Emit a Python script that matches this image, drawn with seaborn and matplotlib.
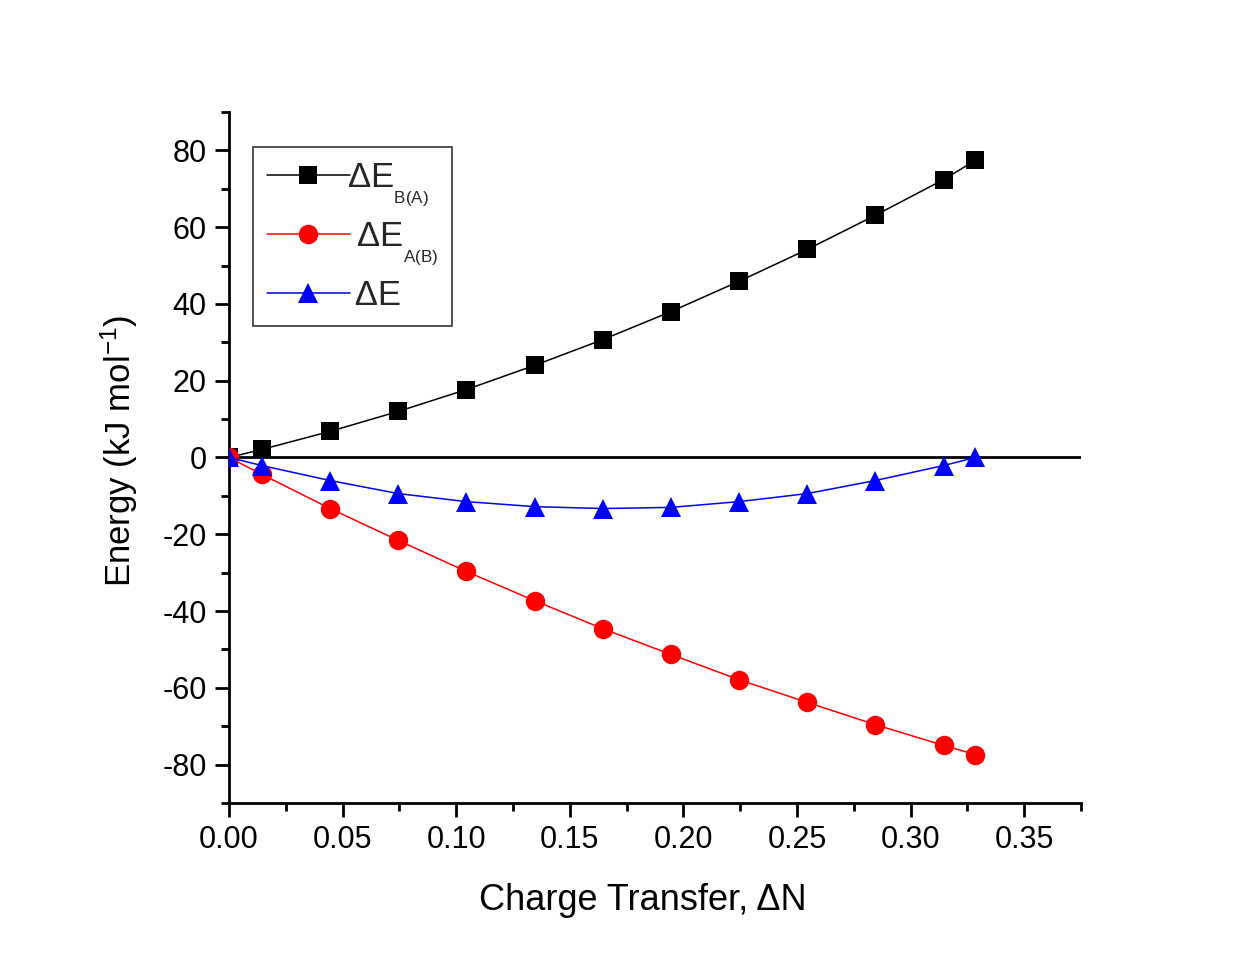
import numpy as np
import pandas as pd
import matplotlib
matplotlib.use("Agg")
import matplotlib.pyplot as plt
import seaborn as sns
from matplotlib.ticker import MultipleLocator, FormatStrFormatter

# Deeper subscript drop (to mimic the Origin-style legend subscripts)
try:
    import matplotlib._mathtext as _mt
    _mt.FontConstantsBase.sub1 = 0.5
except Exception:
    pass

# Data
delta_n = [0.0, 0.0145, 0.0445, 0.0745, 0.1045, 0.1345, 0.1645, 0.1945,
           0.2245, 0.2545, 0.2845, 0.3145, 0.3285]
e_ba = [0.0, 2.1, 6.8, 12.0, 17.7, 24.0, 30.7, 38.0, 45.9, 54.2, 63.1, 72.4, 77.4]
e_ab = [0.0, -4.4, -13.3, -21.6, -29.7, -37.3, -44.6, -51.3, -57.9, -63.8,
        -69.6, -75.0, -77.4]
e_tot = [0.0, -2.1, -6.0, -9.4, -11.5, -12.8, -13.3, -13.0, -11.5, -9.4,
         -6.0, -2.1, 0.0]

labels = ["ΔE$_{{}_\\mathregular{B(A)}}$", " ΔE$_{{}_\\mathregular{A(B)}}$", " ΔE"]
colors = ["#000000", "#ff0000", "#0000ff"]
markers = ["s", "o", "^"]
msizes = [13, 14, 15]

sns.set_theme(style="white")
plt.rcParams["font.family"] = ["Liberation Sans", "DejaVu Sans"]
plt.rcParams["mathtext.fontset"] = "custom"
plt.rcParams["mathtext.rm"] = "Liberation Sans"
plt.rcParams["mathtext.it"] = "Liberation Sans:italic"
plt.rcParams["axes.unicode_minus"] = False

fig = plt.figure(figsize=(12.39, 9.55), dpi=100)
ax = fig.add_axes([0.1848, 0.1592, 0.8725 - 0.1848, 0.8827 - 0.1592])

ax.axhline(0, color="black", lw=2, zorder=1)

for ys, lab, c, m, ms in zip([e_ba, e_ab, e_tot], labels, colors, markers, msizes):
    sns.lineplot(x=delta_n, y=ys, ax=ax, color=c, marker=m, markersize=ms,
                 markeredgewidth=0, linewidth=1.1, label=lab, zorder=3)

ax.set_xlim(0, 0.375)
ax.set_ylim(-90, 90)
ax.xaxis.set_major_locator(MultipleLocator(0.05))
ax.xaxis.set_minor_locator(MultipleLocator(0.025))
ax.xaxis.set_major_formatter(FormatStrFormatter("%.2f"))
ax.yaxis.set_minor_locator(MultipleLocator(10))
ax.set_yticks([-80, -60, -40, -20, 0, 20, 40, 60, 80])

for s in ["top", "right"]:
    ax.spines[s].set_visible(False)
for s in ["left", "bottom"]:
    ax.spines[s].set_linewidth(2)
    ax.spines[s].set_color("black")

ax.tick_params(axis="both", which="major", direction="out", length=10, width=2,
               labelsize=22, color="black", labelcolor="black", pad=6,
               bottom=True, left=True)
ax.tick_params(axis="both", which="minor", direction="out", length=6, width=2,
               color="black", bottom=True, left=True)

ax.set_xlabel("Charge Transfer, ΔN", fontsize=26, labelpad=20, color="black")
ax.set_ylabel("Energy (kJ mol$^\\mathregular{-1}$)", fontsize=25, labelpad=16, color="black")
ax.xaxis.label.set_x(0.486)
ax.yaxis.label.set_y(0.509)

leg = ax.legend(loc="upper left", bbox_to_anchor=(0.028, 0.949), borderaxespad=0,
                fontsize=25, frameon=True, fancybox=False, edgecolor="#333333",
                framealpha=1, handlelength=2.4, labelspacing=0.34, borderpad=0.4,
                handletextpad=-0.1)
leg.get_frame().set_linewidth(1.2)

fig.savefig("out.png", dpi=100, facecolor="white")
